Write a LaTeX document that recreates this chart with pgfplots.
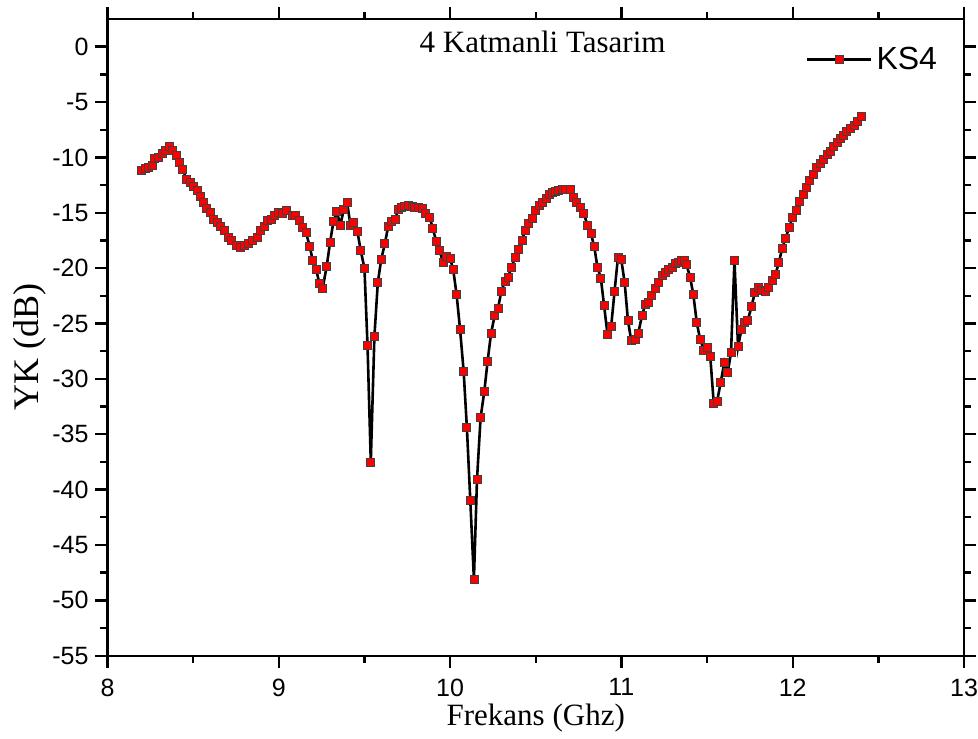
\documentclass[border=0pt]{standalone}
\usepackage{fontspec}
\setmainfont{Liberation Serif}
\newfontfamily\arialfont{Liberation Sans}
\usepackage{pgfplots}
\pgfplotsset{compat=1.18}
\begin{document}
\begin{tikzpicture}
\begin{axis}[
 scale only axis, width=428.25pt, height=318.35pt,
 xmin=8, xmax=13, ymin=-55, ymax=2.5,
 xtick={8,9,...,13}, ytick={-55,-50,...,0},
 minor x tick num=1, minor y tick num=1,
 tick align=outside, major tick length=6pt, minor tick length=3.5pt,
 axis line style={line width=1.2pt},
 every tick/.style={line width=1.2pt, black},
 tick label style={font=\arialfont\fontsize{12.5}{14}\selectfont},
 xticklabel style={yshift=-2pt},
 /pgf/number format/assume math mode=true,
 xlabel={Frekans (Ghz)}, ylabel={YK (dB)},
 xlabel style={font=\fontsize{15.5}{18}\selectfont, at={(axis description cs:0.5,-0.098)}, anchor=center},
 ylabel style={font=\fontsize{18}{20}\selectfont, at={(axis description cs:-0.0905,0.485)}, anchor=center},
 legend style={draw=none, fill=none, at={(axis description cs:0.808,0.936)}, anchor=west, font=\arialfont\fontsize{16}{18}\selectfont},
 legend image code/.code={\draw[mark repeat=2,mark phase=2,#1] plot coordinates {(0pt,0pt) (16pt,0pt) (32pt,0pt)};},
]
\addplot[black, line width=1.3pt, mark=square*, mark size=2pt, mark options={fill=red, draw=black!75, line width=0.4pt, solid}] coordinates {
(8.200,-11.2) (8.219,-11.0) (8.239,-10.9) (8.260,-10.7) (8.276,-10.05) (8.299,-10.0) (8.319,-9.6) (8.338,-9.4) (8.360,-9.0) (8.379,-9.4)
(8.401,-9.8) (8.420,-10.45) (8.440,-11.1) (8.461,-12.0) (8.482,-12.3) (8.502,-12.6) (8.522,-13.0) (8.541,-13.5) (8.560,-14.1) (8.580,-14.6)
(8.599,-15.0) (8.619,-15.6) (8.639,-15.9) (8.658,-16.2) (8.681,-16.6) (8.706,-17.2) (8.726,-17.5) (8.750,-17.95) (8.775,-18.1) (8.798,-17.95)
(8.823,-17.8) (8.847,-17.5) (8.873,-17.2) (8.892,-16.6) (8.915,-16.2) (8.935,-15.7) (8.954,-15.6) (8.975,-15.2) (8.999,-14.95) (9.019,-15.1)
(9.045,-14.8) (9.077,-15.2) (9.096,-15.25) (9.120,-15.7) (9.139,-16.3) (9.159,-16.8) (9.180,-18.0) (9.198,-19.3) (9.218,-20.1) (9.237,-21.4)
(9.256,-21.8) (9.280,-19.8) (9.299,-17.7) (9.319,-15.8) (9.338,-14.9) (9.360,-16.1) (9.379,-14.7) (9.399,-14.1) (9.418,-16.1) (9.437,-15.9)
(9.459,-16.7) (9.478,-18.4) (9.500,-20.0) (9.518,-27.0) (9.537,-37.5) (9.558,-26.2) (9.578,-21.3) (9.598,-19.2) (9.619,-17.8) (9.639,-16.2)
(9.658,-15.8) (9.680,-15.6) (9.697,-14.7) (9.716,-14.5) (9.736,-14.4) (9.756,-14.3) (9.777,-14.4) (9.794,-14.5) (9.816,-14.5) (9.839,-14.6)
(9.858,-15.05) (9.880,-15.4) (9.899,-16.4) (9.919,-17.6) (9.939,-18.4) (9.959,-19.5) (9.978,-18.9) (9.999,-19.1) (10.018,-20.1) (10.038,-22.4)
(10.058,-25.5) (10.079,-29.3) (10.098,-34.4) (10.118,-41.0) (10.139,-48.1) (10.157,-39.1) (10.178,-33.5) (10.200,-31.1) (10.219,-28.4) (10.239,-25.9)
(10.260,-24.3) (10.280,-23.6) (10.299,-22.1) (10.320,-21.2) (10.338,-20.8) (10.360,-19.9) (10.379,-19.0) (10.399,-18.3) (10.420,-17.5) (10.437,-16.6)
(10.459,-16.0) (10.478,-15.5) (10.498,-14.8) (10.519,-14.3) (10.539,-14.1) (10.560,-13.7) (10.578,-13.3) (10.595,-13.2) (10.615,-13.1) (10.635,-13.0)
(10.654,-12.9) (10.675,-12.85) (10.701,-12.85) (10.720,-13.6) (10.740,-14.1) (10.759,-14.5) (10.781,-15.1) (10.802,-16.1) (10.822,-16.9) (10.841,-18.0)
(10.860,-19.9) (10.880,-20.9) (10.899,-23.4) (10.919,-26.0) (10.940,-25.3) (10.960,-22.1) (10.980,-19.0) (10.999,-19.2) (11.019,-21.3) (11.038,-24.7)
(11.057,-26.5) (11.079,-26.4) (11.098,-25.9) (11.120,-24.3) (11.139,-23.3) (11.159,-23.1) (11.178,-22.5) (11.198,-21.8) (11.218,-21.3) (11.237,-20.7)
(11.256,-20.4) (11.276,-20.1) (11.295,-19.9) (11.313,-19.6) (11.332,-19.45) (11.352,-19.3) (11.367,-19.3) (11.380,-19.7) (11.401,-20.8) (11.420,-22.4)
(11.440,-24.9) (11.459,-26.4) (11.481,-27.4) (11.500,-27.2) (11.519,-28.0) (11.539,-32.2) (11.559,-32.0) (11.580,-30.3) (11.601,-28.5) (11.621,-29.4)
(11.640,-27.6) (11.660,-19.3) (11.681,-27.1) (11.701,-25.5) (11.718,-24.9) (11.738,-24.7) (11.759,-23.5) (11.779,-22.2) (11.800,-21.7) (11.820,-22.0)
(11.841,-22.1) (11.861,-21.7) (11.880,-21.1) (11.899,-20.6) (11.919,-19.5) (11.939,-18.2) (11.958,-17.3) (11.980,-16.3) (11.999,-15.4) (12.019,-14.8)
(12.040,-14.0) (12.060,-13.3) (12.079,-12.7) (12.098,-12.1) (12.118,-11.5) (12.137,-10.9) (12.159,-10.5) (12.178,-10.2) (12.200,-9.7) (12.219,-9.5)
(12.239,-9.0) (12.258,-8.6) (12.277,-8.3) (12.297,-7.98) (12.316,-7.65) (12.338,-7.38) (12.358,-7.07) (12.379,-6.74) (12.400,-6.32)
};
\addlegendentry{KS4}
\node[font=\fontsize{15.5}{18}\selectfont] at (rel axis cs:0.508,0.964) {4 Katmanli Tasarim};
\coordinate (SW) at (rel axis cs:0,0);
\coordinate (NE) at (rel axis cs:1,1);
\end{axis}
\pgfresetboundingbox
\path[use as bounding box] ([xshift=-53.75pt,yshift=-41.15pt]SW) rectangle ([xshift=7pt,yshift=9.5pt]NE);
\end{tikzpicture}
\end{document}
